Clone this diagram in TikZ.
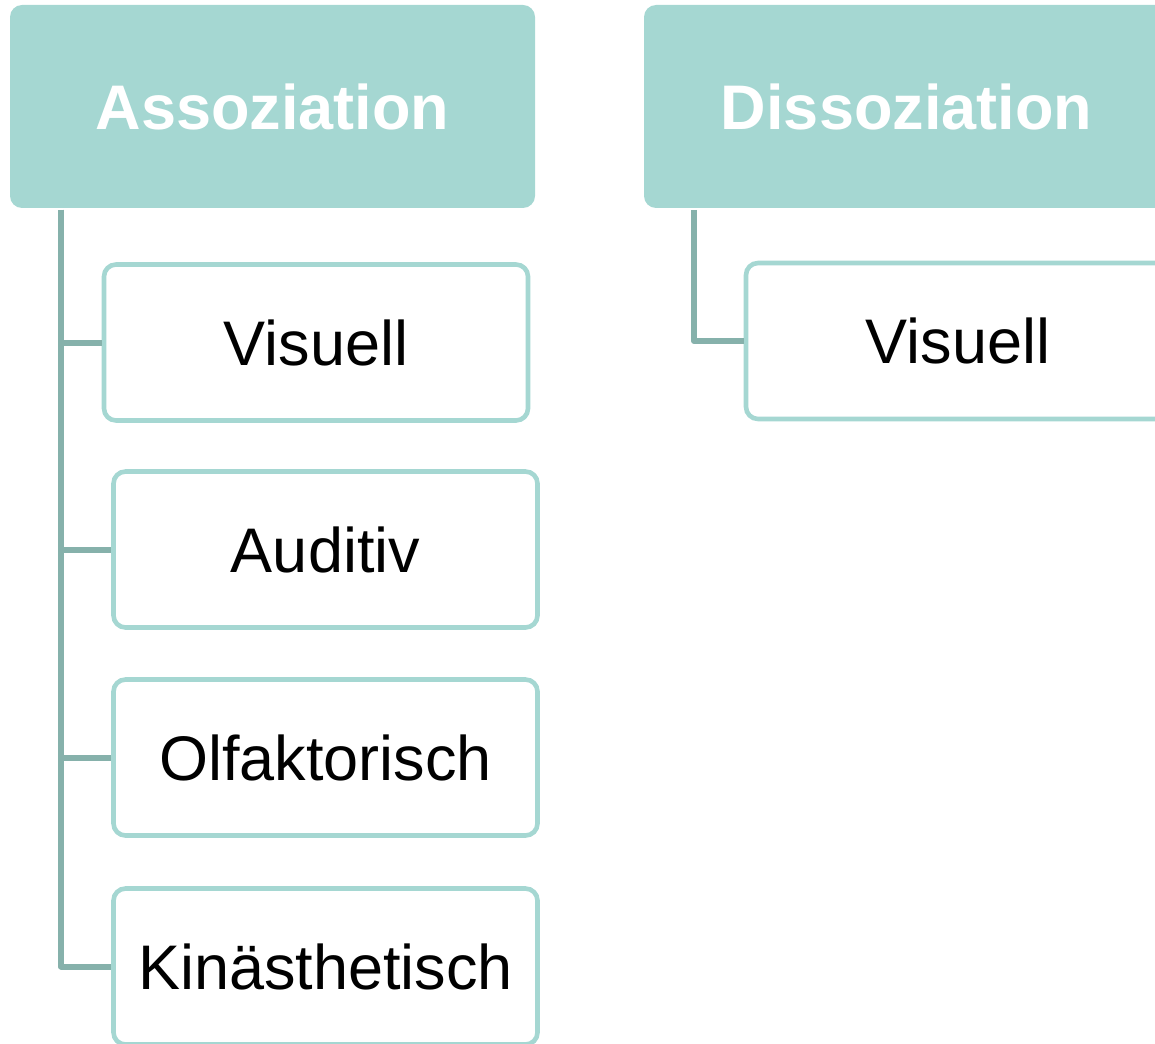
\documentclass[tikz,border=0pt]{standalone}
\usepackage{fontspec}
\setmainfont{Liberation Sans}
\definecolor{headfill}{HTML}{A5D7D2}
\definecolor{linkline}{HTML}{86B1AB}
\tikzset{head/.style = {shape=rectangle,fill=headfill,rounded corners=6pt,
    minimum width=262.5pt,minimum height=101.5pt,text=white,
    font=\fontsize{31.5}{36}\selectfont\bfseries}}
\tikzset{leaf/.style = {shape=rectangle,draw=headfill,line width=2.3pt,fill=white,
    rounded corners=6pt,minimum width=212pt,minimum height=78pt,
    font=\fontsize{31.5}{36}\selectfont}}
\tikzset{link/.style = {draw=linkline,line width=3pt,line join=round}}

\begin{document}
\begin{tikzpicture}[x=0.5pt,y=-0.5pt]
  \useasboundingbox (0,0) rectangle (1155,1043);

  \node[head] (assoz) at (272.5, 106.5) {Assoziation};
  \node[head] (dissoz) at (906.5, 106.5) {Dissoziation};

  \node[leaf] (avis) at (316, 342.5) {Visuell};
  \node[leaf] (aaud) at (325.5, 549.5) {Auditiv};
  \node[leaf] (aolf) at (325.5, 757.5) {Olfaktorisch};
  \node[leaf] (akin) at (325.5, 966.5) {Kinästhetisch};
  \node[leaf] (dvis) at (958, 341) {Visuell};

  \coordinate (aroot) at (61, 210);
  \coordinate (droot) at (694, 210);

  \draw[link] (aroot) |- (akin.west);
  \draw[link] (aroot) |- (avis.west);
  \draw[link] (aroot) |- (aaud.west);
  \draw[link] (aroot) |- (aolf.west);
  \draw[link] (droot) |- (dvis.west);
\end{tikzpicture}
\end{document}
